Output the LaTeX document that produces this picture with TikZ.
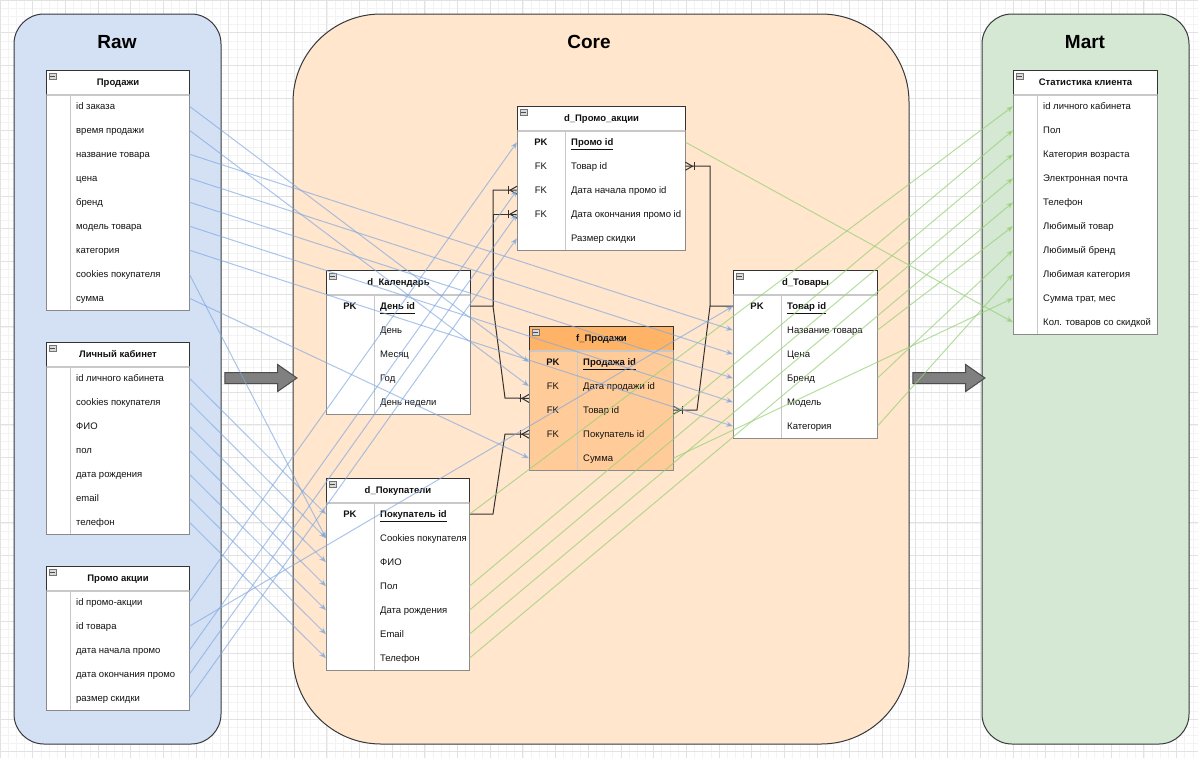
\documentclass[tikz,border=0pt]{standalone}
\usepackage{fontspec}
\setmainfont{Liberation Sans}
\usetikzlibrary{arrows.meta,shapes.arrows,calc}
\definecolor{rawfill}{HTML}{D4E1F5}
\definecolor{corefill}{HTML}{FFE6CC}
\definecolor{martfill}{HTML}{D5E8D4}
\definecolor{ohdr}{HTML}{FFB366}
\definecolor{orow}{HTML}{FFCC99}
\definecolor{blueln}{HTML}{7EA6E0}
\definecolor{greenln}{HTML}{97D077}
\definecolor{txt}{HTML}{111111}
\definecolor{hdrborder}{HTML}{333333}
\definecolor{tblborder}{HTML}{8A8A8A}
\definecolor{sepgray}{HTML}{C8C8C8}
\definecolor{rowsepc}{HTML}{F0F0F0}
\definecolor{gridmaj}{HTML}{E2E2E2}
\definecolor{gridmin}{HTML}{F3F3F3}
\definecolor{panelborder}{HTML}{36393D}
\definecolor{erline}{HTML}{333333}
\newcommand\pkk{\textbf{PK}}
\newcommand\pkt[1]{\textbf{\underline{#1}}}
\tikzset{
  rowbox/.style={inner sep=0, minimum height=24, draw=none},
  plainrow/.style={fill=white}, plainhdr/.style={fill=white},
  orangerow/.style={fill=orow}, orangehdr/.style={fill=ohdr},
  hdr/.style={draw=hdrborder, line width=1pt, inner sep=0, minimum height=24, text height=6.8pt, text depth=0pt, font=\fontsize{9.5}{11}\selectfont\bfseries, text=txt},
  rowtext/.style={anchor=west, inner sep=0, text height=6.8pt, text depth=0pt, font=\fontsize{9.5}{11}\selectfont, text=txt},
  keytext/.style={inner sep=0, text height=6.8pt, text depth=0pt, font=\fontsize{9.5}{11}\selectfont, text=txt},
  rowsep/.style={draw=rowsepc, line width=0.8pt},
  colsep/.style={draw=sepgray, line width=1pt},
  tblline/.style={draw=tblborder, line width=1pt},
  hdrline/.style={draw=sepgray, line width=2pt},
  minusbox/.style={draw=black!55, fill=black!15, minimum width=7, minimum height=6, inner sep=0, line width=0.7pt},
  panel/.style={draw=panelborder, line width=1pt, inner sep=0},
  ptitle/.style={font=\fontsize{19}{22}\selectfont\bfseries, text=black},
  bigarrow/.style={single arrow, draw=black!70, fill=black!50, line width=1pt, minimum height=72, minimum width=26, inner sep=5, single arrow tip angle=70, single arrow head extend=8},
  bl/.style={draw=blueln, line width=1pt, opacity=0.65, -{Stealth[length=7pt,width=5.5pt]}},
  gl/.style={draw=greenln, line width=1pt, opacity=0.7, -{Stealth[length=7pt,width=5.5pt]}},
  er/.style={draw=erline, line width=1pt},
}
% #1 name #2 x #3 y #4 width #5 key width #6 title #7 rows #8 list #9 style prefix
\newcommand\mktable[9]{%
  \node[hdr, #9hdr, minimum width=#4, anchor=north west] (#1) at (#2,#3) {#6};
  \foreach [count=\ri] \rkey/\rtext in {#8} {
    \pgfmathsetmacro\yy{#3+24*\ri}
    \node[rowbox, #9row, minimum width=#4, anchor=north west] (#1-\ri) at (#2,\yy) {};
    \draw[rowsep] ([xshift=1]#1-\ri.south west) -- ([xshift=-1]#1-\ri.south east);
    \node[keytext] (#1-\ri-k) at ([xshift=#5/2]#1-\ri.west) {\rkey};
    \node[rowtext] (#1-\ri-t) at ([xshift=#5+6]#1-\ri.west) {\rtext};
  }
  \draw[colsep] ([xshift=#5]#1-1.north west) -- ([xshift=#5]#1-#7.south west);
  \draw[tblline] (#1-1.north west) -- (#1-#7.south west) -- (#1-#7.south east) -- (#1-1.north east);
  \draw[hdrline] ([xshift=1]#1.south west) -- ([xshift=-1]#1.south east);
  \node[minusbox] (#1-m) at ([xshift=6.5,yshift=-6]#1.north west) {};
  \draw[line width=0.8pt, black!70] ([xshift=1.5]#1-m.west) -- ([xshift=-1.5]#1-m.east);
}
\newcommand\crowfoot[2]{%
  \begin{scope}[shift={#1}, rotate=#2]
    \draw[er] (0,-4) -- (7,0) -- (0,4);
    \draw[er] (9,-4) -- (9,4);
  \end{scope}}
\begin{document}
\begin{tikzpicture}[x=1pt,y=-1pt]
\useasboundingbox (0,0) rectangle (1198,758);
\fill[white] (0,0) rectangle (1198,758);
% grid
\foreach \gx in {0,8.17,...,1198} \draw[gridmin, line width=0.6pt] (\gx,0) -- (\gx,758);
\foreach \gy in {0,8.17,...,758} \draw[gridmin, line width=0.6pt] (0,\gy) -- (1198,\gy);
\foreach \gx in {0,32.68,...,1198} \draw[gridmaj, line width=0.8pt] (\gx,0) -- (\gx,758);
\foreach \gy in {0,32.68,...,758} \draw[gridmaj, line width=0.8pt] (0,\gy) -- (1198,\gy);
% panels
\node[panel, fill=rawfill, rounded corners=30, minimum width=207, minimum height=730] (raw) at (117.5,379) {};
\node[panel, fill=corefill, rounded corners=88, minimum width=616, minimum height=730] (core) at (601,379) {};
\node[panel, fill=martfill, rounded corners=30, minimum width=207, minimum height=730] (mart) at (1085.5,379) {};
\node[ptitle] (rawt) at (117,42) {Raw};
\node[ptitle] (coret) at (589,42) {Core};
\node[ptitle] (martt) at (1085,42) {Mart};
\node[bigarrow] (arr1) at (257,378) {};
\node[bigarrow] (arr2) at (945,378) {};
% tables
\mktable{R1}{46}{70}{143}{24}{Продажи}{9}{{}/id заказа, {}/время продажи, {}/название товара, {}/цена, {}/бренд, {}/модель товара, {}/категория, {}/cookies покупателя, {}/сумма}{plain}
\mktable{R2}{46}{342}{143}{24}{Личный кабинет}{7}{{}/id личного кабинета, {}/cookies покупателя, {}/ФИО, {}/пол, {}/дата рождения, {}/email, {}/телефон}{plain}
\mktable{R3}{46}{566}{143}{24}{Промо акции}{5}{{}/id промо-акции, {}/id товара, {}/дата начала промо, {}/дата окончания промо, {}/размер скидки}{plain}
\mktable{D}{517}{106}{168}{48}{d\_Промо\_акции}{5}{\pkk/\pkt{Промо id}, FK/Товар id, FK/Дата начала промо id, FK/Дата окончания промо id, {}/Размер скидки}{plain}
\mktable{K}{326}{270}{144}{48}{d\_Календарь}{5}{\pkk/\pkt{День id}, {}/День, {}/Месяц, {}/Год, {}/День недели}{plain}
\mktable{F}{529}{326}{144}{48}{f\_Продажи}{5}{\pkk/\pkt{Продажа id}, FK/Дата продажи id, FK/Товар id, FK/Покупатель id, {}/Сумма}{orange}
\mktable{C}{326}{478}{143}{48}{d\_Покупатели}{7}{\pkk/\pkt{Покупатель id}, {}/Cookies покупателя, {}/ФИО, {}/Пол, {}/Дата рождения, {}/Email, {}/Телефон}{plain}
\mktable{T}{733}{270}{144}{48}{d\_Товары}{6}{\pkk/\pkt{Товар id}, {}/Название товара, {}/Цена, {}/Бренд, {}/Модель, {}/Категория}{plain}
\mktable{S}{1013}{70}{144}{24}{Статистика клиента}{10}{{}/id личного кабинета, {}/Пол, {}/Категория возраста, {}/Электронная почта, {}/Телефон, {}/Любимый товар, {}/Любимый бренд, {}/Любимая категория, {}/{Сумма трат, мес}, {}/Кол. товаров со скидкой}{plain}
% ER relations
\coordinate (kj) at (493,306);
\coordinate (kf) at (505,398);
\draw[er] (K-1.east) -- (kj) |- (D-3.west);
\draw[er] (kj) |- (D-4.west);
\draw[er] (kj) -- (kf) -- (F-2.south west);
\crowfoot{(D-3.west)}{180}
\crowfoot{(D-4.west)}{180}
\crowfoot{(F-2.south west)}{180}
\coordinate (tj) at (710,306);
\coordinate (tf) at (697,410);
\draw[er] (T-1.west) -- (tj) |- (D-2.east);
\draw[er] (tj) -- (tf) -- (F-3.east);
\crowfoot{(D-2.east)}{0}
\crowfoot{(F-3.east)}{0}
\coordinate (cj) at (493,514);
\coordinate (cf) at (505,434);
\draw[er] (C-1.east) -- (cj) -- (cf) -- (F-4.west);
\crowfoot{(F-4.west)}{180}
% Raw -> Core
\draw[bl] (R1-1.east) -- (F-1.west);
\draw[bl] (R1-2.east) -- (F-2.west);
\draw[bl] (R1-3.east) -- (T-2.west);
\draw[bl] (R1-4.east) -- (T-3.west);
\draw[bl] (R1-5.east) -- (T-4.west);
\draw[bl] (R1-6.east) -- (T-5.west);
\draw[bl] (R1-7.east) -- (T-6.west);
\draw[bl] (R1-8.east) -- (C-2.west);
\draw[bl] (R1-9.east) -- (F-5.west);
\foreach \n in {1,...,7} \draw[bl] (R2-\n.east) -- (C-\n.west);
\draw[bl] (R3-1.east) -- (D-1.west);
\draw[bl] (R3-2.east) -- (T-1.west);
\draw[bl] (R3-3.east) -- (D-3.west);
\draw[bl] (R3-4.east) -- (D-4.west);
\draw[bl] (R3-5.east) -- (D-5.west);
% Core -> Mart
\draw[gl] (C-1.east) -- (S-1.west);
\draw[gl] (C-4.east) -- (S-2.west);
\draw[gl] (C-5.east) -- (S-3.west);
\draw[gl] (C-6.east) -- (S-4.west);
\draw[gl] (C-7.east) -- (S-5.west);
\draw[gl] (T-2.east) -- (S-6.west);
\draw[gl] (T-4.east) -- (S-7.west);
\draw[gl] (T-6.east) -- (S-8.west);
\draw[gl] (F-5.east) -- (S-9.west);
\draw[gl] (D-1.east) -- (S-10.west);
\end{tikzpicture}
\end{document}
